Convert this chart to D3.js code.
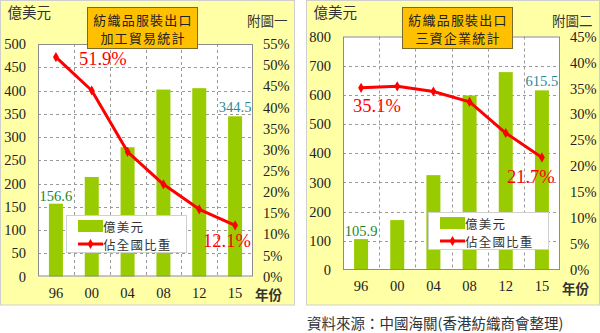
<!DOCTYPE html>
<html><head><meta charset="utf-8">
<script src="https://cdn.jsdelivr.net/npm/d3@7"></script>
<style>
html,body{margin:0;padding:0;background:#fff;}
svg{display:block;}
</style></head>
<body>
<svg id="c" width="600" height="333"></svg>
<script>
const years = ["96","00","04","08","12","15"];
const processingValues = [156.6, 214, 278, 402, 405, 344.5];
const processingShare = [51.9, 44.0, 29.5, 21.8, 15.9, 12.1];
const fieValues = [105.9, 171, 325, 598, 678, 615.5];
const fieShare = [35.1, 35.4, 34.4, 32.4, 26.4, 21.7];
const leftTicks1 = [0,50,100,150,200,250,300,350,400,450,500];
const rightTicks1 = [0,5,10,15,20,25,30,35,40,45,50,55];
const leftTicks2 = [0,100,200,300,400,500,600,700,800];
const rightTicks2 = [0,5,10,15,20,25,30,35,40,45];
const unitLabel = "億美元";
const yearLabel = "年份";
const legendBar = "億美元";
const legendLine = "佔全國比重";
const sourceText = "資料來源：中國海關(香港紡織商會整理)";

const svg = d3.select("#c");
const SERIF = "'Liberation Serif','DejaVu Serif',serif";
const CJK = "'Noto Sans CJK TC','Noto Sans CJK SC',sans-serif";
const BAR = "#99CC00", RED = "#FF0000", BG = "#FFFFA6", GRID = "#9a9a9a";

function panel(cfg) {
  const g = svg.append("g");
  g.append("rect").attr("x", cfg.px).attr("y", 0.5).attr("width", cfg.pw).attr("height", 304.5)
    .attr("fill", BG).attr("stroke", "#cfcfcf").attr("stroke-width", 1);
  const x = d3.scaleBand().domain(years).range([cfg.l, cfg.r]);
  const y = d3.scaleLinear().domain([0, cfg.yMax]).range([cfg.b, cfg.t]);
  const y2 = d3.scaleLinear().domain([0, cfg.pMax]).range([cfg.b, cfg.t]);
  g.append("rect").attr("x", cfg.l).attr("y", cfg.t).attr("width", cfg.r - cfg.l).attr("height", cfg.b - cfg.t)
    .attr("fill", "#fff");
  g.append("g").selectAll("line").data(cfg.lt.filter(d => d > 0 && d < cfg.yMax)).join("line")
    .attr("x1", cfg.l).attr("x2", cfg.r).attr("y1", d => Math.round(y(d)) + 0.5).attr("y2", d => Math.round(y(d)) + 0.5)
    .attr("stroke", GRID).attr("stroke-dasharray", "3,3");
  g.append("g").selectAll("line").data(years.slice(1)).join("line")
    .attr("x1", d => Math.round(x(d)) + 0.5).attr("x2", d => Math.round(x(d)) + 0.5)
    .attr("y1", cfg.t).attr("y2", cfg.b)
    .attr("stroke", GRID).attr("stroke-dasharray", "3,3");
  const bw = 14;
  g.append("g").selectAll("rect").data(cfg.vals).join("rect")
    .attr("x", (d, i) => x(years[i]) + x.bandwidth() / 2 - bw / 2)
    .attr("width", bw)
    .attr("y", d => y(d)).attr("height", d => cfg.b - y(d))
    .attr("fill", BAR);
  g.append("rect").attr("x", cfg.l + 0.5).attr("y", cfg.t + 0.5).attr("width", cfg.r - cfg.l - 1).attr("height", cfg.b - cfg.t - 1)
    .attr("fill", "none").attr("stroke", "#8c8c8c").attr("stroke-width", 1);
  const ya = d3.axisLeft(y).tickValues(cfg.lt).tickSize(0).tickPadding(0);
  const yl = g.append("g").attr("transform", `translate(${cfg.l - 12},0)`).call(ya);
  yl.select(".domain").remove();
  yl.selectAll("text").attr("font-family", SERIF).attr("font-size", 14.5).attr("fill", "#222");
  const ya2 = d3.axisRight(y2).tickValues(cfg.rt).tickSize(0).tickPadding(0).tickFormat(d => d + "%");
  const yr = g.append("g").attr("transform", `translate(${cfg.r + 10},0)`).call(ya2);
  yr.select(".domain").remove();
  yr.selectAll("text").attr("font-family", SERIF).attr("font-size", 14.5).attr("fill", "#222");
  const xa = d3.axisBottom(x).tickSize(0).tickPadding(0);
  const xl = g.append("g").attr("transform", `translate(0,${cfg.b + 11})`).call(xa);
  xl.select(".domain").remove();
  xl.selectAll("text").attr("font-family", SERIF).attr("font-size", 14.5).attr("fill", "#222");
  const line = d3.line().x((d, i) => x(years[i]) + x.bandwidth() / 2).y(d => y2(d));
  g.append("path").datum(cfg.share).attr("d", line).attr("fill", "none").attr("stroke", RED).attr("stroke-width", 3)
    .attr("stroke-linejoin", "round");
  g.append("g").selectAll("path").data(cfg.share).join("path")
    .attr("d", d3.symbol(d3.symbolDiamond, 30))
    .attr("transform", (d, i) => `translate(${x(years[i]) + x.bandwidth() / 2},${y2(d)})`)
    .attr("fill", RED);
  const cx = i => x(years[i]) + x.bandwidth() / 2;
  g.append("text").attr("x", cx(0)).attr("y", y(cfg.vals[0]) - 3).attr("text-anchor", "middle")
    .attr("font-family", SERIF).attr("font-size", 14.5).attr("fill", "#1a8a2a").text(cfg.vals[0]);
  g.append("text").attr("x", cx(5)).attr("y", y(cfg.vals[5]) - 4.5).attr("text-anchor", "middle")
    .attr("font-family", SERIF).attr("font-size", 14.5).attr("fill", "#2a8a96").text(cfg.vals[5]);
  g.append("text").attr("x", cx(0) + cfg.p0dx).attr("y", y2(cfg.share[0]) + cfg.p0dy)
    .attr("font-family", SERIF).attr("font-size", 18.5).attr("fill", RED).text(cfg.share[0].toFixed(1) + "%");
  g.append("text").attr("x", cx(5) + cfg.p5dx).attr("y", y2(cfg.share[5]) + cfg.p5dy)
    .attr("font-family", SERIF).attr("font-size", 18.5).attr("fill", RED).text(cfg.share[5].toFixed(1) + "%");
  g.append("text").attr("x", cfg.px + 7).attr("y", 18).attr("font-family", CJK).attr("font-size", 14.5)
    .attr("fill", "#333").text(unitLabel);
  g.append("text").attr("x", cfg.px + cfg.pw - 7).attr("y", 26).attr("text-anchor", "end").attr("font-family", CJK)
    .attr("font-size", 13.5).attr("fill", "#333").text(cfg.fig);
  g.append("text").attr("x", cfg.r + 2).attr("y", cfg.b + 23.5).attr("font-family", CJK).attr("font-size", 13.5)
    .attr("font-weight", "bold").attr("fill", "#333").text(yearLabel);
  // title box
  g.append("rect").attr("x", cfg.tx + 0.5).attr("y", 7.5).attr("width", 110).attr("height", 41)
    .attr("fill", "#FFC000").attr("stroke", "#7a6a30").attr("stroke-width", 1);
  cfg.title.forEach((t, i) => {
    g.append("text").attr("x", cfg.tx + 56).attr("y", 24.5 + i * 18.9).attr("text-anchor", "middle")
      .attr("font-family", CJK).attr("font-size", 13).attr("letter-spacing", 1.2).attr("fill", "#222").text(t);
  });
  // legend
  const lg = g.append("g").attr("transform", `translate(${cfg.lx},${cfg.ly})`);
  lg.append("rect").attr("x", 0.5).attr("y", 0.5).attr("width", cfg.lw).attr("height", 37).attr("fill", "#fff")
    .attr("stroke", "#d0d0d0");
  lg.append("rect").attr("x", 12).attr("y", 5).attr("width", 25).attr("height", 12).attr("fill", BAR);
  lg.append("line").attr("x1", 12).attr("x2", 37).attr("y1", 29).attr("y2", 29).attr("stroke", RED).attr("stroke-width", 3);
  lg.append("path").attr("d", d3.symbol(d3.symbolDiamond, 30)).attr("transform", "translate(24.5,29)").attr("fill", RED);
  lg.append("text").attr("x", 37).attr("y", 16.5).attr("font-family", CJK).attr("font-size", 12.5)
    .attr("letter-spacing", 1.2).attr("fill", "#333").text(legendBar);
  lg.append("text").attr("x", 37).attr("y", 34.8).attr("font-family", CJK).attr("font-size", 12.5)
    .attr("letter-spacing", 1.2).attr("fill", "#333").text(legendLine);
}

panel({px: 0.5, pw: 294, l: 38, r: 253, t: 44, b: 276.5, yMax: 500, pMax: 55, lt: leftTicks1, rt: rightTicks1,
  vals: processingValues, share: processingShare, fig: "附圖一", title: ["紡織品服裝出口", "加工貿易統計"], tx: 87,
  lx: 66, ly: 215, lw: 120, p0dx: 23, p0dy: 8, p5dx: -32, p5dy: 22});
panel({px: 306.5, pw: 293, l: 343, r: 560, t: 36.5, b: 270, yMax: 800, pMax: 45, lt: leftTicks2, rt: rightTicks2,
  vals: fieValues, share: fieShare, fig: "附圖二", title: ["紡織品服裝出口", "三資企業統計"], tx: 402,
  lx: 428, ly: 212, lw: 120, p0dx: -8, p0dy: 24, p5dx: -35, p5dy: 26});

svg.append("text").attr("x", 307).attr("y", 329).attr("font-family", CJK).attr("font-size", 14.5).attr("fill", "#333")
  .text(sourceText);
</script>
</body></html>
